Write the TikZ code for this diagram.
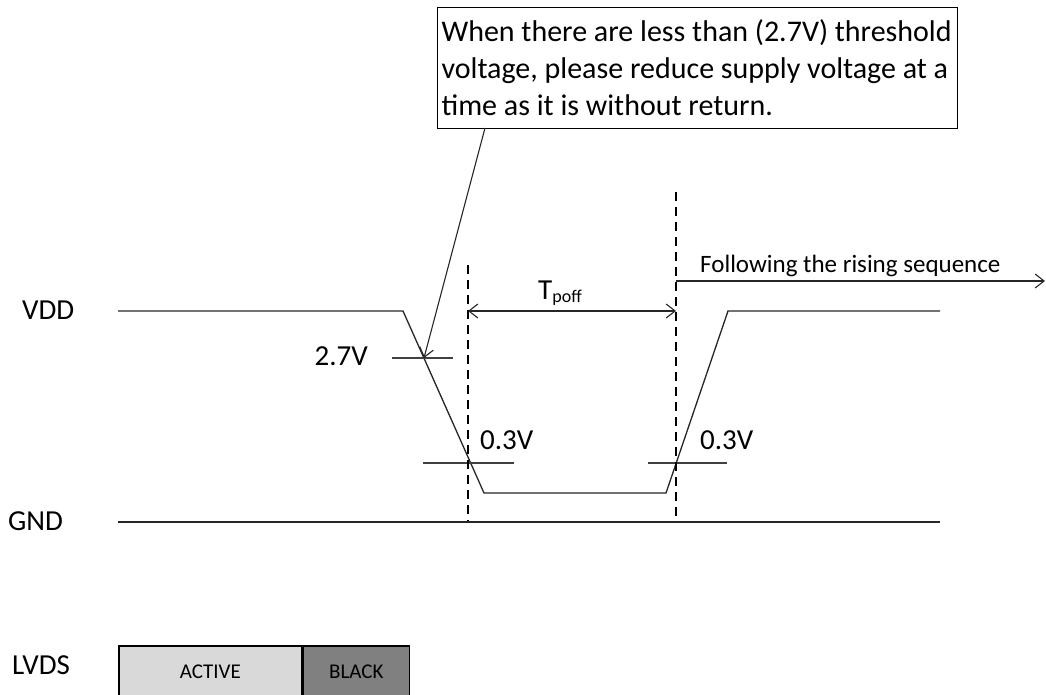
\documentclass[tikz,border=0pt]{standalone}
\usepackage{fontspec}
\setmainfont{Carlito}
\usepackage{tikz}
\usetikzlibrary{arrows.meta,positioning}

\begin{document}
\begin{tikzpicture}[x=1pt,y=-1pt,
      wave/.style={line width=1.3pt, draw=black!85},
      tick/.style={line width=1.3pt, draw=black!75},
      guide/.style={line width=1.4pt, dash pattern=on 9pt off 6pt},
      lbl/.style={font=\fontsize{29}{32}\selectfont, inner sep=0pt},
      arr/.style={-{Straight Barb[length=9pt,width=14pt]}, line width=1.1pt, draw=black!85},
      dbl/.style={{Straight Barb[length=9pt,width=14pt]}-{Straight Barb[length=9pt,width=14pt]}, line width=1.1pt, draw=black!85},
      sig/.style={draw, line width=1.6pt, minimum height=52pt, font=\fontsize{21}{24}\selectfont, inner sep=0pt}
    ]
      \useasboundingbox (0,0) rectangle (1046,695);

      % waveform corners
      \coordinate (v0) at (118,311);
      \coordinate (v1) at (403,311);
      \coordinate (v2) at (484,493);
      \coordinate (v3) at (666,493);
      \coordinate (v4) at (728,311);
      \coordinate (v5) at (940,311);
      \coordinate (p27) at (424,358);

      \node[lbl, anchor=west] (vdd) at (22,310) {VDD};
      \node[lbl, anchor=west] (gnd) at (8,521) {GND};
      \node[lbl, anchor=west] (lvds) at (12,665) {LVDS};

      \draw[wave] (v0) -- (v1) -- (v2) -- (v3) -- (v4) -- (v5);
      \coordinate (g0) at (118,522);
      \coordinate (g1) at (940,522);
      \draw[wave] (g0) -- (g1);

      % thresholds
      \coordinate (t27a) at (392,358);
      \coordinate (t27b) at (453,358);
      \draw[tick] (t27a) -- (t27b);
      \node[lbl, anchor=east] (v27) at (368,356) {2.7V};

      \coordinate (t03a) at (423,463);
      \coordinate (t03b) at (514,463);
      \coordinate (t03c) at (648,463);
      \coordinate (t03d) at (727,463);
      \draw[tick] (t03a) -- (t03b);
      \draw[tick] (t03c) -- (t03d);
      \node[lbl, anchor=west] (v03a) at (480,440) {0.3V};
      \node[lbl, anchor=west] (v03b) at (700,440) {0.3V};

      % timing guides
      \coordinate (d1t) at (468,265);
      \coordinate (d1b) at (468,521);
      \coordinate (d2t) at (676,192);
      \coordinate (d2b) at (676,516);
      \draw[guide] (d1t) -- (d1b);
      \draw[guide] (d2t) -- (d2b);

      \coordinate (tpa) at (468,311);
      \coordinate (tpb) at (676,311);
      \draw[dbl] (tpa) -- (tpb);
      \node[lbl, font=\fontsize{29}{30}\selectfont] (tpoff) at (560,293)
        {T\raisebox{-3pt}{\fontsize{18}{18}\selectfont poff}};

      \coordinate (fa) at (676,281);
      \coordinate (fb) at (1045,281);
      \draw[arr] (fa) -- (fb);
      \node[lbl, anchor=south west, font=\fontsize{25}{28}\selectfont] (follow) at (700,277)
        {Following the rising sequence};

      % note
      \node[draw, line width=1.1pt, anchor=north west, align=flush left, text width=512pt,
            minimum height=121pt, inner xsep=4pt, inner ysep=3pt, font=\fontsize{30}{37}\selectfont] (note) at (437,7)
        {When there are less than (2.7V) threshold\\voltage, please reduce supply voltage at a\\time as it is without return.};
      \coordinate (nb) at (485,128);
      \draw[arr] (nb) -- (p27);

      % LVDS
      \node[sig, fill=black!15, minimum width=183pt, anchor=north west] (active) at (118,645) {ACTIVE};
      \node[sig, fill=black!50, minimum width=106pt, right=0pt of active] (black) {BLACK};
    \end{tikzpicture}
\end{document}
